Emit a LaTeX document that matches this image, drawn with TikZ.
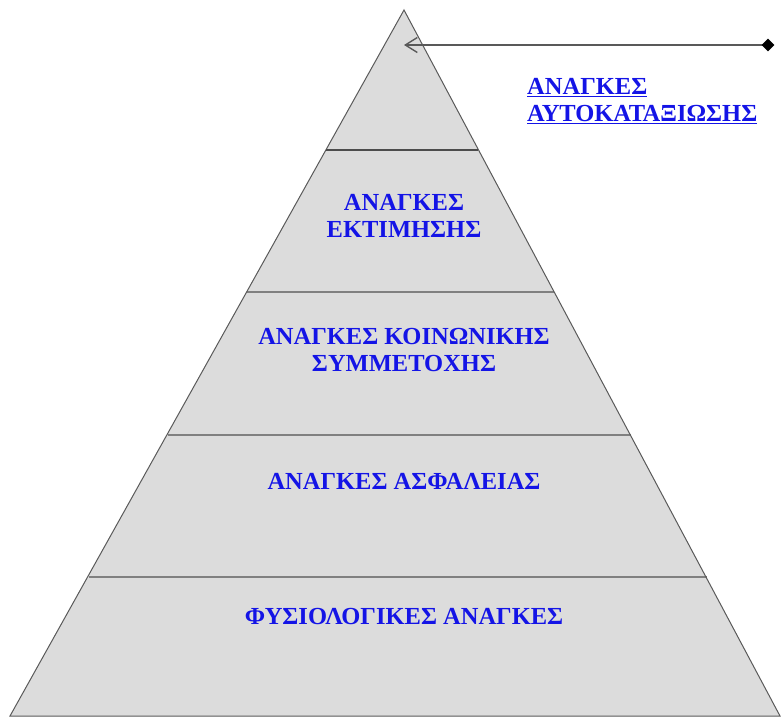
\documentclass[tikz,border=0pt]{standalone}
\usepackage{fontspec}
\setmainfont{Liberation Serif}
\usetikzlibrary{arrows.meta,shapes.geometric}
\definecolor{layerfill}{RGB}{220,220,220}
\definecolor{edgegray}{RGB}{128,128,128}
\definecolor{txtblue}{RGB}{20,20,230}
\tikzset{
  lbl/.style={text=txtblue, font=\bfseries\fontsize{24.5}{26.5}\selectfont, align=center, inner sep=0pt},
}
\begin{document}
\begin{tikzpicture}[x=1pt,y=-1pt]
\useasboundingbox (0,0) rectangle (784,720);
% apex and base
\coordinate (A) at (404,10);
\coordinate (BL) at (10,716);
\coordinate (BR) at (780,716);
% level points
\coordinate (L1) at (326,150); \coordinate (R1) at (478,150);
\coordinate (L2) at (247,292); \coordinate (R2) at (554,292);
\coordinate (L3) at (168,435); \coordinate (R3) at (631,435);
\coordinate (L4) at (89,577);  \coordinate (R4) at (707,577);
\fill[layerfill] (A) -- (BR) -- (BL) -- cycle;
\draw[edgegray, line width=1.2pt] (L2) -- (R2);
\draw[edgegray, line width=1.2pt] (L3) -- (R3);
\draw[edgegray, line width=1.2pt] (L4) -- (R4);
\draw[edgegray!70!black, line width=1pt] (A) -- (BR) -- (BL) -- cycle;
\draw[black!70, line width=2.2pt] (L1) -- (R1);
% labels
\node[lbl] (n1) at (404,216) {ΑΝΑΓΚΕΣ\\ΕΚΤΙΜΗΣΗΣ};
\node[lbl] (n2) at (404,350) {ΑΝΑΓΚΕΣ ΚΟΙΝΩΝΙΚΗΣ\\ΣΥΜΜΕΤΟΧΗΣ};
\node[lbl] (n3) at (404,481) {ΑΝΑΓΚΕΣ ΑΣΦΑΛΕΙΑΣ};
\node[lbl] (n4) at (404,617) {ΦΥΣΙΟΛΟΓΙΚΕΣ ΑΝΑΓΚΕΣ};
\node[lbl, align=left, anchor=west] (top) at (527,101) {\underline{ΑΝΑΓΚΕΣ}\\\underline{ΑΥΤΟΚΑΤΑΞΙΩΣΗΣ}};
% pointer
\coordinate (tip) at (404,45);
\coordinate (dia) at (768,45);
\draw[black!65, line width=1.4pt, -{Straight Barb[length=12pt,width=15pt,line width=1.4pt]}] (dia) -- (tip);
\node[fill=black, diamond, minimum size=13pt, inner sep=0pt, shape aspect=1] (d) at (dia) {};
\end{tikzpicture}
\end{document}
